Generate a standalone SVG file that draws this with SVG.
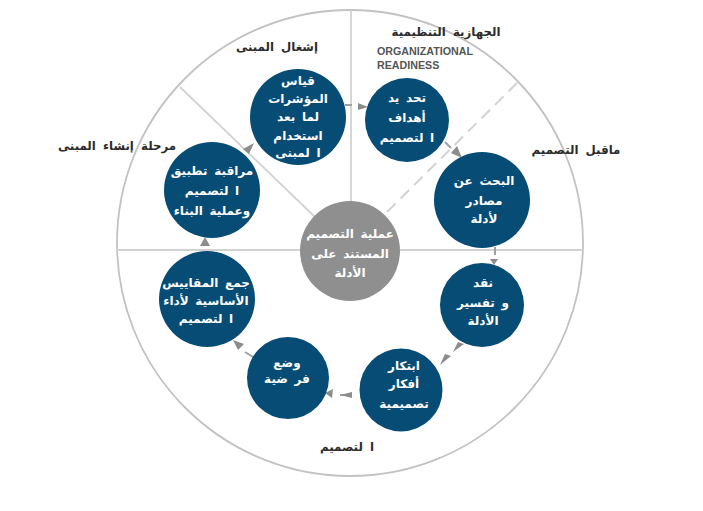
<svg xmlns="http://www.w3.org/2000/svg" width="703" height="511" viewBox="0 0 703 511">
<style>
.ring{fill:none;stroke:#c2c2c2;stroke-width:1.8}
.div{fill:none;stroke:#d2d2d2;stroke-width:1.8}
.dash{fill:none;stroke:#d2d2d2;stroke-width:2;stroke-dasharray:12 7}
.stub{fill:none;stroke:#a0a0a0;stroke-width:2}
.head{fill:#8c8c8c}
.n{fill:#064c75}
.c{fill:#8f8f8f}
text{font-family:"DejaVu Sans",sans-serif;text-anchor:middle;direction:rtl}
.t{fill:#fff;font-size:12px;font-weight:700;word-spacing:2.5px}
.l{fill:#2c2c2c;font-size:11.8px;font-weight:700;word-spacing:3px}
.e{fill:#555;font-family:"Liberation Sans",Arial,sans-serif;font-size:10.7px;font-weight:700;text-anchor:start;direction:ltr}
</style>
<rect width="703" height="511" fill="#fff"/>
<g id="frame">
<circle class="ring" cx="350" cy="243" r="233"/>
<path class="div" d="M351 10V205M117 250H305M395 250H583M180 87L315 217"/>
<path class="dash" d="M517 83L385 214"/>
</g>
<g id="connectors">
<path class="stub" d="M345 105H352M445 142L451 148M495 247V255M245 352L253 357"/>
<path class="stub" d="M340 395H350"/>
<polygon class="head" points="368,107 358,103 358,110"/>
<polygon class="head" points="462,158 451,153 457,146"/>
<polygon class="head" points="494,265 490,259 498,259"/>
<polygon class="head" points="453,352 464,344 458,342"/>
<polygon class="head" points="440,365 451,356 445,354"/>
<polygon class="head" points="352,398 340,395 352,392"/>
<polygon class="head" points="325,393 333,389 332,398"/>
<polygon class="head" points="233,340 244,344 238,350"/>
<polygon class="head" points="205,237 200,246 210,246"/>
<polygon class="head" points="254,143 243,149 249,154"/>
</g>
<g id="center"><circle class="c" cx="350" cy="251" r="50"/><text class="t" x="350" y="238">عملية التصميم</text><text class="t" x="350" y="258">المستند على</text><text class="t" x="350" y="277">الأدلة</text></g>
<g id="n1"><circle class="n" cx="298" cy="117" r="48"/><text class="t" x="298" y="85">قياس</text><text class="t" x="298" y="103">المؤشرات</text><text class="t" x="298" y="121">لما بعد</text><text class="t" x="298" y="140">استخدام</text><text class="t" x="298" y="157">ا لمبنى</text></g>
<g id="n2"><circle class="n" cx="407" cy="120" r="42"/><text class="t" x="407" y="102">تحد يد</text><text class="t" x="407" y="122">أهداف</text><text class="t" x="407" y="142">ا لتصميم</text></g>
<g id="n3"><circle class="n" cx="482" cy="200" r="48"/><text class="t" x="484" y="185">البحث عن</text><text class="t" x="484" y="205">مصادر</text><text class="t" x="484" y="223">لأدلة</text></g>
<g id="n4"><circle class="n" cx="482" cy="305" r="42"/><text class="t" x="483" y="287">نقد</text><text class="t" x="483" y="307">و تفسير</text><text class="t" x="483" y="325">الأدلة</text></g>
<g id="n5"><circle class="n" cx="401" cy="390" r="41.5"/><text class="t" x="404" y="370">ابتكار</text><text class="t" x="404" y="388">أفكار</text><text class="t" x="404" y="408">تصميمية</text></g>
<g id="n6"><circle class="n" cx="288" cy="378" r="41"/><text class="t" x="287" y="367">وضع</text><text class="t" x="287" y="383">فر ضية</text></g>
<g id="n7"><circle class="n" cx="207" cy="299" r="48"/><text class="t" x="206" y="287">جمع المقاييس</text><text class="t" x="206" y="305">الأساسية لأداء</text><text class="t" x="206" y="323">ا لتصميم</text></g>
<g id="n8"><circle class="n" cx="212" cy="190" r="48"/><text class="t" x="212" y="175">مراقبة تطبيق</text><text class="t" x="212" y="195">ا لتصميم</text><text class="t" x="212" y="215">وعملية البناء</text></g>
<g id="labels">
<text class="l" x="277" y="51">إشغال المبنى</text>
<text class="l" x="117" y="150">مرحلة إنشاء المبنى</text>
<text class="l" x="446" y="36">الجهازية التنظيمية</text>
<text class="e" x="377" y="55">ORGANIZATIONAL</text>
<text class="e" x="377" y="69">READINESS</text>
<text class="l" x="576" y="154">ماقبل التصميم</text>
<text class="l" x="347" y="451">ا لتصميم</text>
</g>
</svg>
